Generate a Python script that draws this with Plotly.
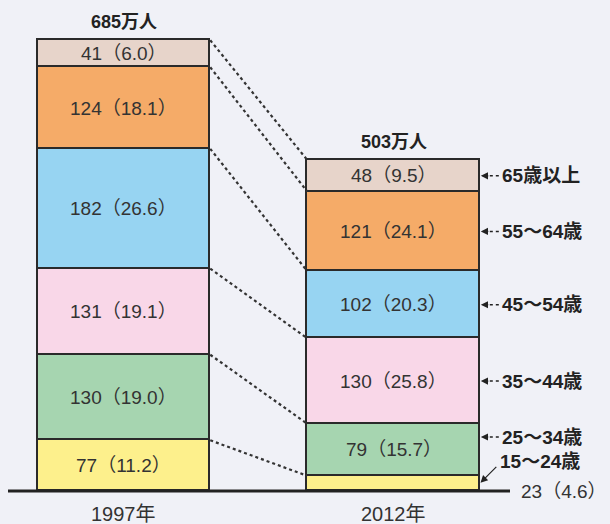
import plotly.graph_objects as go

# Workers by age group (万人) and share of total (%), stacked bottom to top
years = ["1997年", "2012年"]
totals = [685, 503]
age_groups = ["15～24歳", "25～34歳", "35～44歳", "45～54歳", "55～64歳", "65歳以上"]
values_1997 = [77, 130, 131, 182, 124, 41]
pct_1997 = [11.2, 19.0, 19.1, 26.6, 18.1, 6.0]
values_2012 = [23, 79, 130, 102, 121, 48]
pct_2012 = [4.6, 15.7, 25.8, 20.3, 24.1, 9.5]

colors = ["#fdf08c", "#a6d5b0", "#f9d7e8", "#97d4f2", "#f5ab68", "#e7d4ca"]
BG = "#f0f1f7"
INK = "#333333"
FONT = "Liberation Sans, Noto Sans CJK JP"
BAR_W = 0.64

xs = [0, 1]
fig = go.Figure()

for i, grp in enumerate(age_groups):
    fig.add_trace(go.Bar(
        x=xs, y=[values_1997[i], values_2012[i]], width=BAR_W,
        marker=dict(color=colors[i], line=dict(color="#2a2a2a", width=1.6)),
        name=grp, showlegend=False, hoverinfo="skip",
    ))

# cumulative tops of each segment
def cumulative(vals):
    out, s = [], 0
    for v in vals:
        s += v
        out.append(s)
    return out

top_1997 = cumulative(values_1997)
top_2012 = cumulative(values_2012)

# dotted connectors between matching segment tops
for a, b in zip(top_1997, top_2012):
    fig.add_trace(go.Scatter(
        x=[xs[0] + BAR_W / 2, xs[1] - BAR_W / 2], y=[a, b], mode="lines",
        line=dict(color="#333", width=2.2, dash="dot"),
        showlegend=False, hoverinfo="skip",
    ))

annotations = []

def seg_label(x, top, v, p):
    return dict(x=x, y=top - v / 2, xref="x", yref="y", showarrow=False,
                text=f"{v}（{p:.1f}）",
                font=dict(family=FONT, size=19, color=INK))

for i in range(len(age_groups)):
    annotations.append(seg_label(xs[0], top_1997[i], values_1997[i], pct_1997[i]))
    if i > 0:
        annotations.append(seg_label(xs[1], top_2012[i], values_2012[i], pct_2012[i]))

# totals above the bars
for x, t in zip(xs, totals):
    annotations.append(dict(x=x, y=t, xref="x", yref="y", yshift=18, showarrow=False,
                            text=f"<b>{t}万人</b>",
                            font=dict(family=FONT, size=18, color="#222")))

# year labels under the baseline
for x, yr in zip(xs, years):
    annotations.append(dict(x=x, y=0, xref="x", yref="y", yshift=-23, showarrow=False,
                            text=yr, font=dict(family=FONT, size=20, color=INK)))

# age-group labels on the right of the 2012 bar
right = xs[1] + BAR_W / 2
label_y = [None, top_2012[1] - 20, None, None, None, None]
for i in range(1, 6):
    v = values_2012[i]
    y = label_y[i] if label_y[i] is not None else top_2012[i] - v / 2
    annotations.append(dict(x=right, y=y, xref="x", yref="y", ax=10, ay=0,
                            showarrow=True, arrowhead=2, arrowsize=1.2, arrowwidth=1.2,
                            arrowcolor="#222", text="", standoff=1))
    annotations.append(dict(x=right, y=y, xref="x", yref="y", xshift=20, showarrow=False,
                            xanchor="left", text=f"<b>{age_groups[i]}</b>",
                            font=dict(family=FONT, size=19, color="#222")))
    fig.add_shape(type="line", xref="x", yref="y", xsizemode="pixel", xanchor=right,
                  x0=10, x1=19, y0=y, y1=y, line=dict(color="#222", width=1.5, dash="dot"))

# youngest group: label with a diagonal arrow and its value beneath
annotations.append(dict(x=right, y=values_2012[0] / 2, xref="x", yref="y",
                        ax=18, ay=-18, showarrow=True, arrowhead=2, arrowsize=1.2,
                        arrowwidth=1.2, arrowcolor="#222", text="", standoff=1))
annotations.append(dict(x=right, y=values_2012[0] / 2, xref="x", yref="y",
                        xshift=18, yshift=22, showarrow=False, xanchor="left",
                        text=f"<b>{age_groups[0]}</b>",
                        font=dict(family=FONT, size=19, color="#222")))
annotations.append(dict(x=1, y=0, xref="paper", yref="y", xshift=-1, yshift=-1,
                        showarrow=False, xanchor="right",
                        text=f"{values_2012[0]}（{pct_2012[0]:.1f}）",
                        font=dict(family=FONT, size=19, color=INK)))

# baseline
fig.add_shape(type="line", xref="paper", yref="y", x0=8 / 610, x1=510 / 610, y0=0, y1=0,
              line=dict(color="#222", width=3))

fig.update_layout(
    width=610, height=524, margin=dict(l=0, r=0, t=0, b=0),
    paper_bgcolor=BG, plot_bgcolor=BG, barmode="stack", bargap=0,
    annotations=annotations,
    xaxis=dict(range=[-0.46, 1.803], visible=False, fixedrange=True),
    yaxis=dict(range=[-50.2, 746.2], visible=False, fixedrange=True),
)

fig.write_html("out.html")
